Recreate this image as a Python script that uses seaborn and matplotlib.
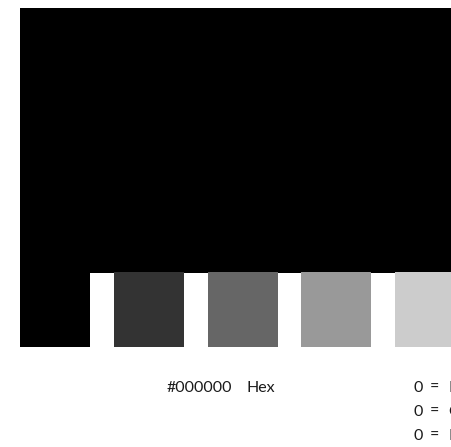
import matplotlib

matplotlib.use("Agg")
import matplotlib.pyplot as plt
import seaborn as sns

sns.set_theme(style="white")
plt.rcParams["font.family"] = ["Lato", "DejaVu Sans"]

# swatch data
main_color = "#000000"
swatch_colors = ["#000000", "#333333", "#666666", "#999999", "#cccccc"]
hex_label = "#000000"
rgb_values = [0, 0, 0]
rgb_names = ["Red", "Green", "Blue"]

W, H = 451, 447
fig = plt.figure(figsize=(W / 100, H / 100), dpi=100)
ax = fig.add_axes([0, 0, 1, 1])
ax.set_xlim(0, W)
ax.set_ylim(H, 0)
ax.axis("off")

# big swatch
ax.add_patch(plt.Rectangle((20, 8), 470, 265, color=main_color, lw=0))

# shade row
for i, c in enumerate(swatch_colors):
    ax.add_patch(plt.Rectangle((20 + 93.75 * i, 272), 70, 75, color=c, lw=0))

# labels
fs = 11.5
ax.text(167, 392, hex_label, fontsize=fs, color="#1a1a1a", va="baseline")
ax.text(246, 392, "Hex", fontsize=fs, color="#1a1a1a", va="baseline")
for i, (v, n) in enumerate(zip(rgb_values, rgb_names)):
    y = 392 + 24 * i
    ax.text(413, y, str(v), fontsize=fs, color="#1a1a1a", va="baseline")
    ax.text(430, y, "=", fontsize=fs, color="#1a1a1a", va="baseline")
    ax.text(448, y, n, fontsize=fs, color="#1a1a1a", va="baseline")

fig.savefig("out.png", dpi=100)
